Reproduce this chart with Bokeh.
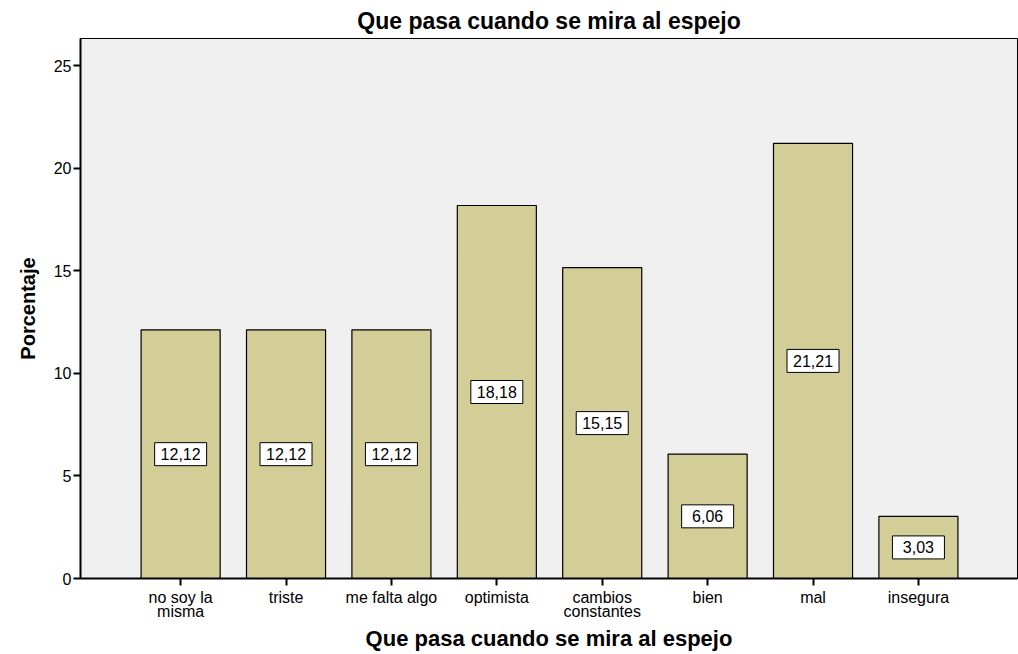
from bokeh.plotting import figure
from bokeh.models import ColumnDataSource, Range1d, FixedTicker
from bokeh.core.properties import value
from bokeh.embed import file_html
from bokeh.resources import INLINE

categories = ["no soy la misma", "triste", "me falta algo", "optimista",
              "cambios constantes", "bien", "mal", "insegura"]
tick_labels = ["no soy la\nmisma", "triste", "me falta algo", "optimista",
               "cambios\nconstantes", "bien", "mal", "insegura"]
values = [12.12, 12.12, 12.12, 18.18, 15.15, 6.06, 21.21, 3.03]
y_ticks = [0, 5, 10, 15, 20, 25]

xpos = list(range(len(categories)))
value_labels = [f"{v:.2f}".replace(".", ",") for v in values]
half = [v / 2 for v in values]

src = ColumnDataSource(dict(x=xpos, cat=categories, val=values, half=half, lbl=value_labels))

FONT = "Liberation Sans"

p = figure(width=1018, height=654, output_backend="svg", toolbar_location=None,
           x_range=Range1d(-0.95, len(categories) - 1 + 0.94),
           y_range=Range1d(0, 26.32),
           min_border_left=80, min_border_right=1, min_border_top=38, min_border_bottom=76)

p.title.text = "Que pasa cuando se mira al espejo"
p.title.align = "center"
p.title.text_font = FONT
p.title.text_font_size = "23px"
p.title.text_font_style = "bold"
p.title.text_color = "#000000"

p.background_fill_color = "#F0F0F0"
p.border_fill_color = "white"
p.outline_line_color = "black"
p.outline_line_width = 1
p.xgrid.visible = False
p.ygrid.visible = False

p.vbar(x="x", top="val", width=0.75, source=src, fill_color="#D3CE98",
       line_color="black", line_width=1.2)

p.rect(x="x", y="half", width=52, height=23, width_units="screen", height_units="screen",
       source=src, fill_color="white", line_color="black", line_width=1)
p.text(x="x", y="half", text="lbl", source=src, text_align="center",
       text_baseline="middle", text_font_size="16px", text_font=value(FONT),
       text_color="black")

for ax in (p.xaxis, p.yaxis):
    ax.axis_line_width = 2
    ax.major_tick_out = 7
    ax.major_tick_in = 0
    ax.major_tick_line_width = 2
    ax.minor_tick_line_color = None
    ax.major_label_text_font = FONT
    ax.major_label_text_font_size = "16px"
    ax.major_label_text_color = "black"
    ax.axis_label_text_font = FONT
    ax.axis_label_text_font_style = "bold"
    ax.axis_label_text_color = "black"

p.yaxis.ticker = FixedTicker(ticks=y_ticks)
p.yaxis.major_label_standoff = 2
p.yaxis.axis_label = "Porcentaje"
p.yaxis.axis_label_text_font_size = "20px"
p.yaxis.axis_label_standoff = 12

p.xaxis.ticker = FixedTicker(ticks=xpos)
p.xaxis.major_label_overrides = {i: t for i, t in zip(xpos, tick_labels)}
p.xaxis.major_label_standoff = 3
p.xaxis.major_label_text_line_height = 0.85
p.xaxis.major_label_orientation = "horizontal"
p.xaxis.axis_label = "Que pasa cuando se mira al espejo"
p.xaxis.axis_label_text_font_size = "22px"
p.xaxis.axis_label_standoff = 3

open("out.html", "w").write(file_html(p, INLINE))
